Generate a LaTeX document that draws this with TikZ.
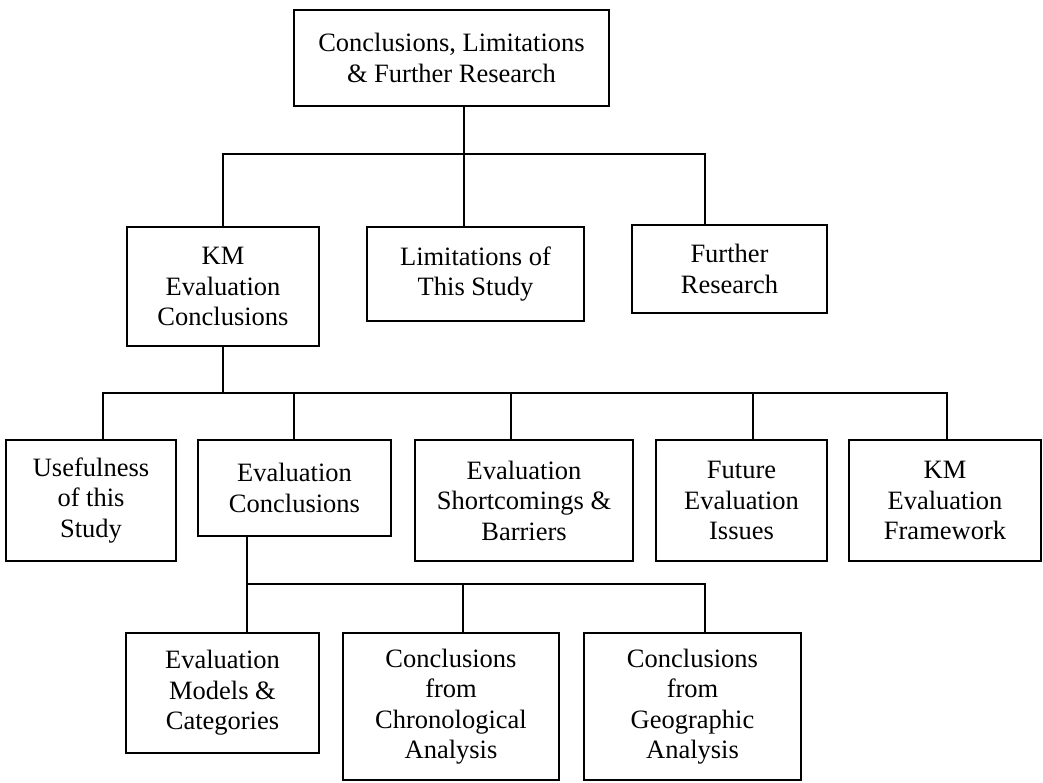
\documentclass[tikz,border=0pt]{standalone}
\usepackage{fontspec}
\setmainfont{Liberation Serif}
\begin{document}
\begin{tikzpicture}[x=1pt,y=-1pt,
  box/.style={draw=black, line width=2pt, inner sep=0pt, align=center,
    font=\fontsize{26.5}{30.5}\selectfont},
  link/.style={draw=black, line width=1.8pt}]
\useasboundingbox[fill=white] (0,0) rectangle (1043,782);

% top level
\node[box, minimum width=315, minimum height=96] (top) at (451.5,58)
  {Conclusions, Limitations\\\& Further Research};

% second level
\node[box, minimum width=192, minimum height=119] (kmc) at (223,286.5)
  {KM\\Evaluation\\Conclusions};
\node[box, minimum width=217, minimum height=94] (lim) at (475.5,274)
  {Limitations of\\This Study};
\node[box, minimum width=195, minimum height=88] (fur) at (729.5,269)
  {Further\\Research};

% third level
\node[box, minimum width=170, minimum height=121] (use) at (91,500.5)
  {Usefulness\\of this\\Study};
\node[box, minimum width=193, minimum height=96] (evc) at (294.5,488)
  {Evaluation\\Conclusions};
\node[box, minimum width=218, minimum height=121] (sho) at (524,500.5)
  {Evaluation\\Shortcomings \&\\Barriers};
\node[box, minimum width=171, minimum height=121] (fut) at (741.5,500.5)
  {Future\\Evaluation\\Issues};
\node[box, minimum width=192, minimum height=121] (kmf) at (945,500.5)
  {KM\\Evaluation\\Framework};

% fourth level
\node[box, minimum width=193, minimum height=120] (mod) at (222.5,693)
  {Evaluation\\Models \&\\Categories};
\node[box, minimum width=216, minimum height=147] (chr) at (451,706.5)
  {Conclusions\\from\\Chronological\\Analysis};
\node[box, minimum width=217, minimum height=147] (geo) at (692.5,706.5)
  {Conclusions\\from\\Geographic\\Analysis};

% junction points of the connector trees
\coordinate (j1) at (464,154);
\coordinate (f1) at (705,154);
\coordinate (j2) at (223,393);
\coordinate (a2) at (103,393);
\coordinate (d2) at (294,393);
\coordinate (b2) at (511,393);
\coordinate (c2) at (753,393);
\coordinate (e2) at (947,393);
\coordinate (j3) at (247,584);
\coordinate (b3) at (463,584);
\coordinate (c3) at (705,584);

% connectors: top level to second level
\draw[link] (j1 |- top.south) -- (j1);
\draw[link] (kmc.north) |- (f1) -- (f1 |- fur.north);
\draw[link] (j1) -- (lim.north -| j1);

% connectors: second level to third level
\draw[link] (kmc.south) -- (j2);
\draw[link] (a2 |- use.north) -- (a2) -- (e2) -- (e2 |- kmf.north);
\draw[link] (d2) -- (d2 |- evc.north);
\draw[link] (b2) -- (b2 |- sho.north);
\draw[link] (c2) -- (c2 |- fut.north);

% connectors: third level to fourth level
\draw[link] (j3 |- evc.south) -- (j3) -- (c3) -- (c3 |- geo.north);
\draw[link] (j3) -- (j3 |- mod.north);
\draw[link] (b3) -- (b3 |- chr.north);
\end{tikzpicture}
\end{document}
